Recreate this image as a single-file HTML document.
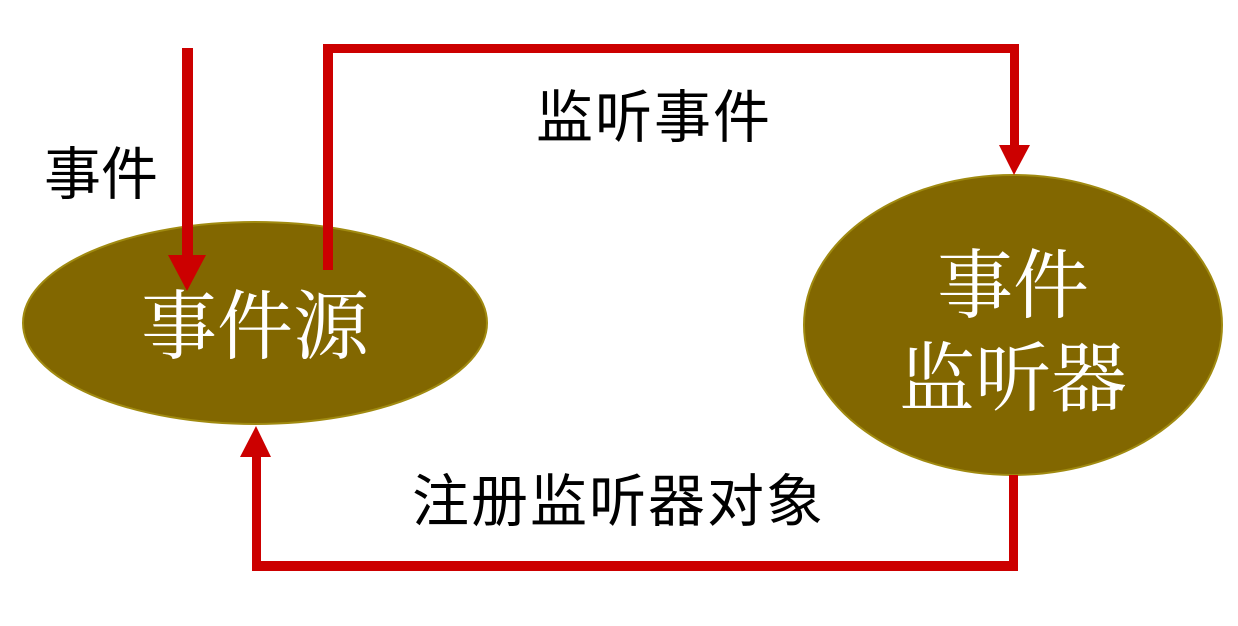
<!DOCTYPE html>
<html><head><meta charset="utf-8"><style>
html,body{margin:0;padding:0;background:#fff;}
svg{display:block;}
.lbl{font-family:"Liberation Sans","Noto Sans CJK SC",sans-serif;fill:#000;}
.in{font-family:"Liberation Serif","Noto Serif CJK SC",serif;fill:#fff;}
</style></head><body>
<svg width="1238" height="626" viewBox="0 0 1238 626" xmlns="http://www.w3.org/2000/svg">
<rect width="1238" height="626" fill="#fff"/>
<ellipse cx="255" cy="323" rx="232" ry="101" fill="#826700" stroke="#a08a10" stroke-width="2"/>
<ellipse cx="1013" cy="325" rx="209" ry="150" fill="#826700" stroke="#a08a10" stroke-width="2"/>
<g fill="#cc0000">
<rect x="182" y="48" width="11" height="210"/>
<polygon points="168,255 206,255 187,291"/>
<rect x="323" y="44" width="10" height="226"/>
<rect x="323" y="44" width="696" height="9"/>
<rect x="1010" y="44" width="9" height="103"/>
<polygon points="999,145 1030,145 1014,175"/>
<rect x="1009" y="475" width="9" height="96"/>
<rect x="252" y="561" width="766" height="10"/>
<rect x="252" y="455" width="9" height="116"/>
<polygon points="240,457 271,457 256,426"/>
</g>
<text class="lbl" x="44" y="194" font-size="57">事件</text>
<text class="lbl" x="536" y="137" font-size="57" letter-spacing="2">监听事件</text>
<text class="lbl" x="412" y="521" font-size="57" letter-spacing="2">注册监听器对象</text>
<text class="in" x="255" y="353" font-size="76" text-anchor="middle">事件源</text>
<text class="in" x="1013" y="312" font-size="76" text-anchor="middle">事件</text>
<text class="in" x="1013" y="405" font-size="76" text-anchor="middle">监听器</text>
</svg>
</body></html>
